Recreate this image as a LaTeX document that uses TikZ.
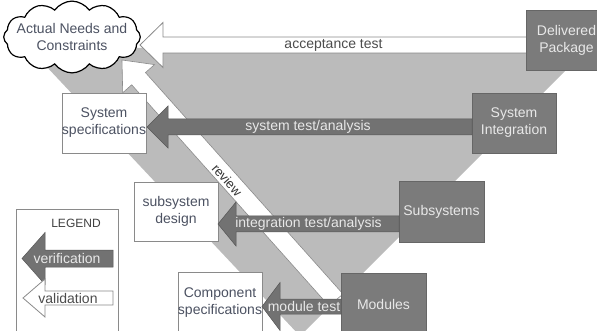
\documentclass[tikz,border=0pt]{standalone}
\usepackage{fontspec}
\setmainfont{Liberation Sans}
\usetikzlibrary{shapes.symbols}
\definecolor{tri}{HTML}{BBBBBB}
\definecolor{darkbox}{HTML}{7B7B7B}
\definecolor{verif}{HTML}{727272}
\definecolor{txtdark}{HTML}{4C5262}
\definecolor{txtlight}{HTML}{E8E8E8}
\definecolor{edge}{HTML}{8A8A8A}
% #1 style, #2 tip x, #3 tail x, #4 y, #5 shaft half width, #6 head half width, #7 head length
\newcommand{\blkarr}[7]{%
  \filldraw[#1] (#2,#4) -- ({#2+#7},{#4-#6}) -- ({#2+#7},{#4-#5}) -- (#3,{#4-#5}) -- (#3,{#4+#5}) -- ({#2+#7},{#4+#5}) -- ({#2+#7},{#4+#6}) -- cycle;}
\begin{document}
\begin{tikzpicture}[x=1pt,y=-1pt,
  every node/.style={font=\fontsize{14}{17}\selectfont, inner sep=0pt},
  whitebox/.style={draw=edge, line width=0.9pt, fill=white, text=txtdark, align=center},
  darkbox/.style={draw=black!60, line width=0.8pt, fill=darkbox, text=txtlight, align=center},
  verarrow/.style={fill=verif, draw=verif!75!black, line width=0.5pt},
  valarrow/.style={fill=white, draw=edge, line width=0.8pt},
  vertext/.style={text=txtlight},
  valtext/.style={text=black!70},
]
\useasboundingbox (0,0) rectangle (597,331);
\clip (0,0) rectangle (597,331);
% V triangle
\fill[tri] (29,48) -- (588,48) -- (300,336) -- cycle;
% review arrow
\coordinate (revtip) at (122,60);
\filldraw[fill=white, draw=edge, line width=0.6pt] (revtip) -- (154.5,64.6) -- (145.5,72.6) -- (343,294) -- (329,306) -- (131.7,84.8) -- (122.7,92.8) -- cycle;
\node[rotate=-48.4, text=black!80, font=\fontsize{13}{15}\selectfont] (rev) at (227,180) {review};
% acceptance test
\blkarr{valarrow}{140}{527}{45}{8}{22.5}{23}
\node[valtext] (acct) at (333.5,45) {acceptance test};
% boxes
\node[darkbox, minimum width=81pt, minimum height=60pt] (dp) at (566.5,40) {Delivered\\Package};
\node[darkbox, minimum width=84pt, minimum height=60pt] (si) at (514,123) {System\\Integration};
\node[darkbox, minimum width=85pt, minimum height=61pt] (ss) at (441.5,211.5) {Subsystems};
\node[darkbox, minimum width=85pt, minimum height=62pt] (mo) at (383.5,304) {Modules};
\node[whitebox, minimum width=84pt, minimum height=60pt] (sp) at (104,123) {System\\specifications};
\node[whitebox, minimum width=84pt, minimum height=59pt] (sd) at (176,211.5) {subsystem\\design};
\node[whitebox, minimum width=84pt, minimum height=62pt] (cs) at (220,303) {Component\\specifications};
% verification arrows
\blkarr{verarrow}{147}{472}{127}{8}{21}{21}
\node[vertext] (stt) at (308,127) {system test/analysis};
\blkarr{verarrow}{218}{399}{224}{8}{22}{18}
\node[vertext] (itt) at (308.5,224) {integration test/analysis};
\blkarr{verarrow}{262}{341}{306.5}{7.5}{24}{18}
\node[vertext] (mtt) at (304,306.5) {module test};
% cloud
\node[cloud, cloud puffs=12, cloud puff arc=110, aspect=2.4, draw=black, line width=1.2pt, fill=white, inner sep=-8pt, minimum width=134pt, minimum height=57pt, text=txtdark, align=center] (an) at (72,37) {Actual Needs and\\Constraints};
% legend
\node[whitebox, minimum width=102pt, minimum height=131pt] (lg) at (67,274.5) {};
\node[text=black!75, font=\fontsize{12}{14}\selectfont] (lgt) at (76,223) {LEGEND};
\blkarr{verarrow}{22}{113}{258.5}{8.5}{26}{23}
\node[vertext] (lvt) at (67,258.5) {verification};
\blkarr{valarrow}{23}{113}{298}{7}{19}{22}
\node[valtext] (lvat) at (68,298) {validation};
\end{tikzpicture}
\end{document}
